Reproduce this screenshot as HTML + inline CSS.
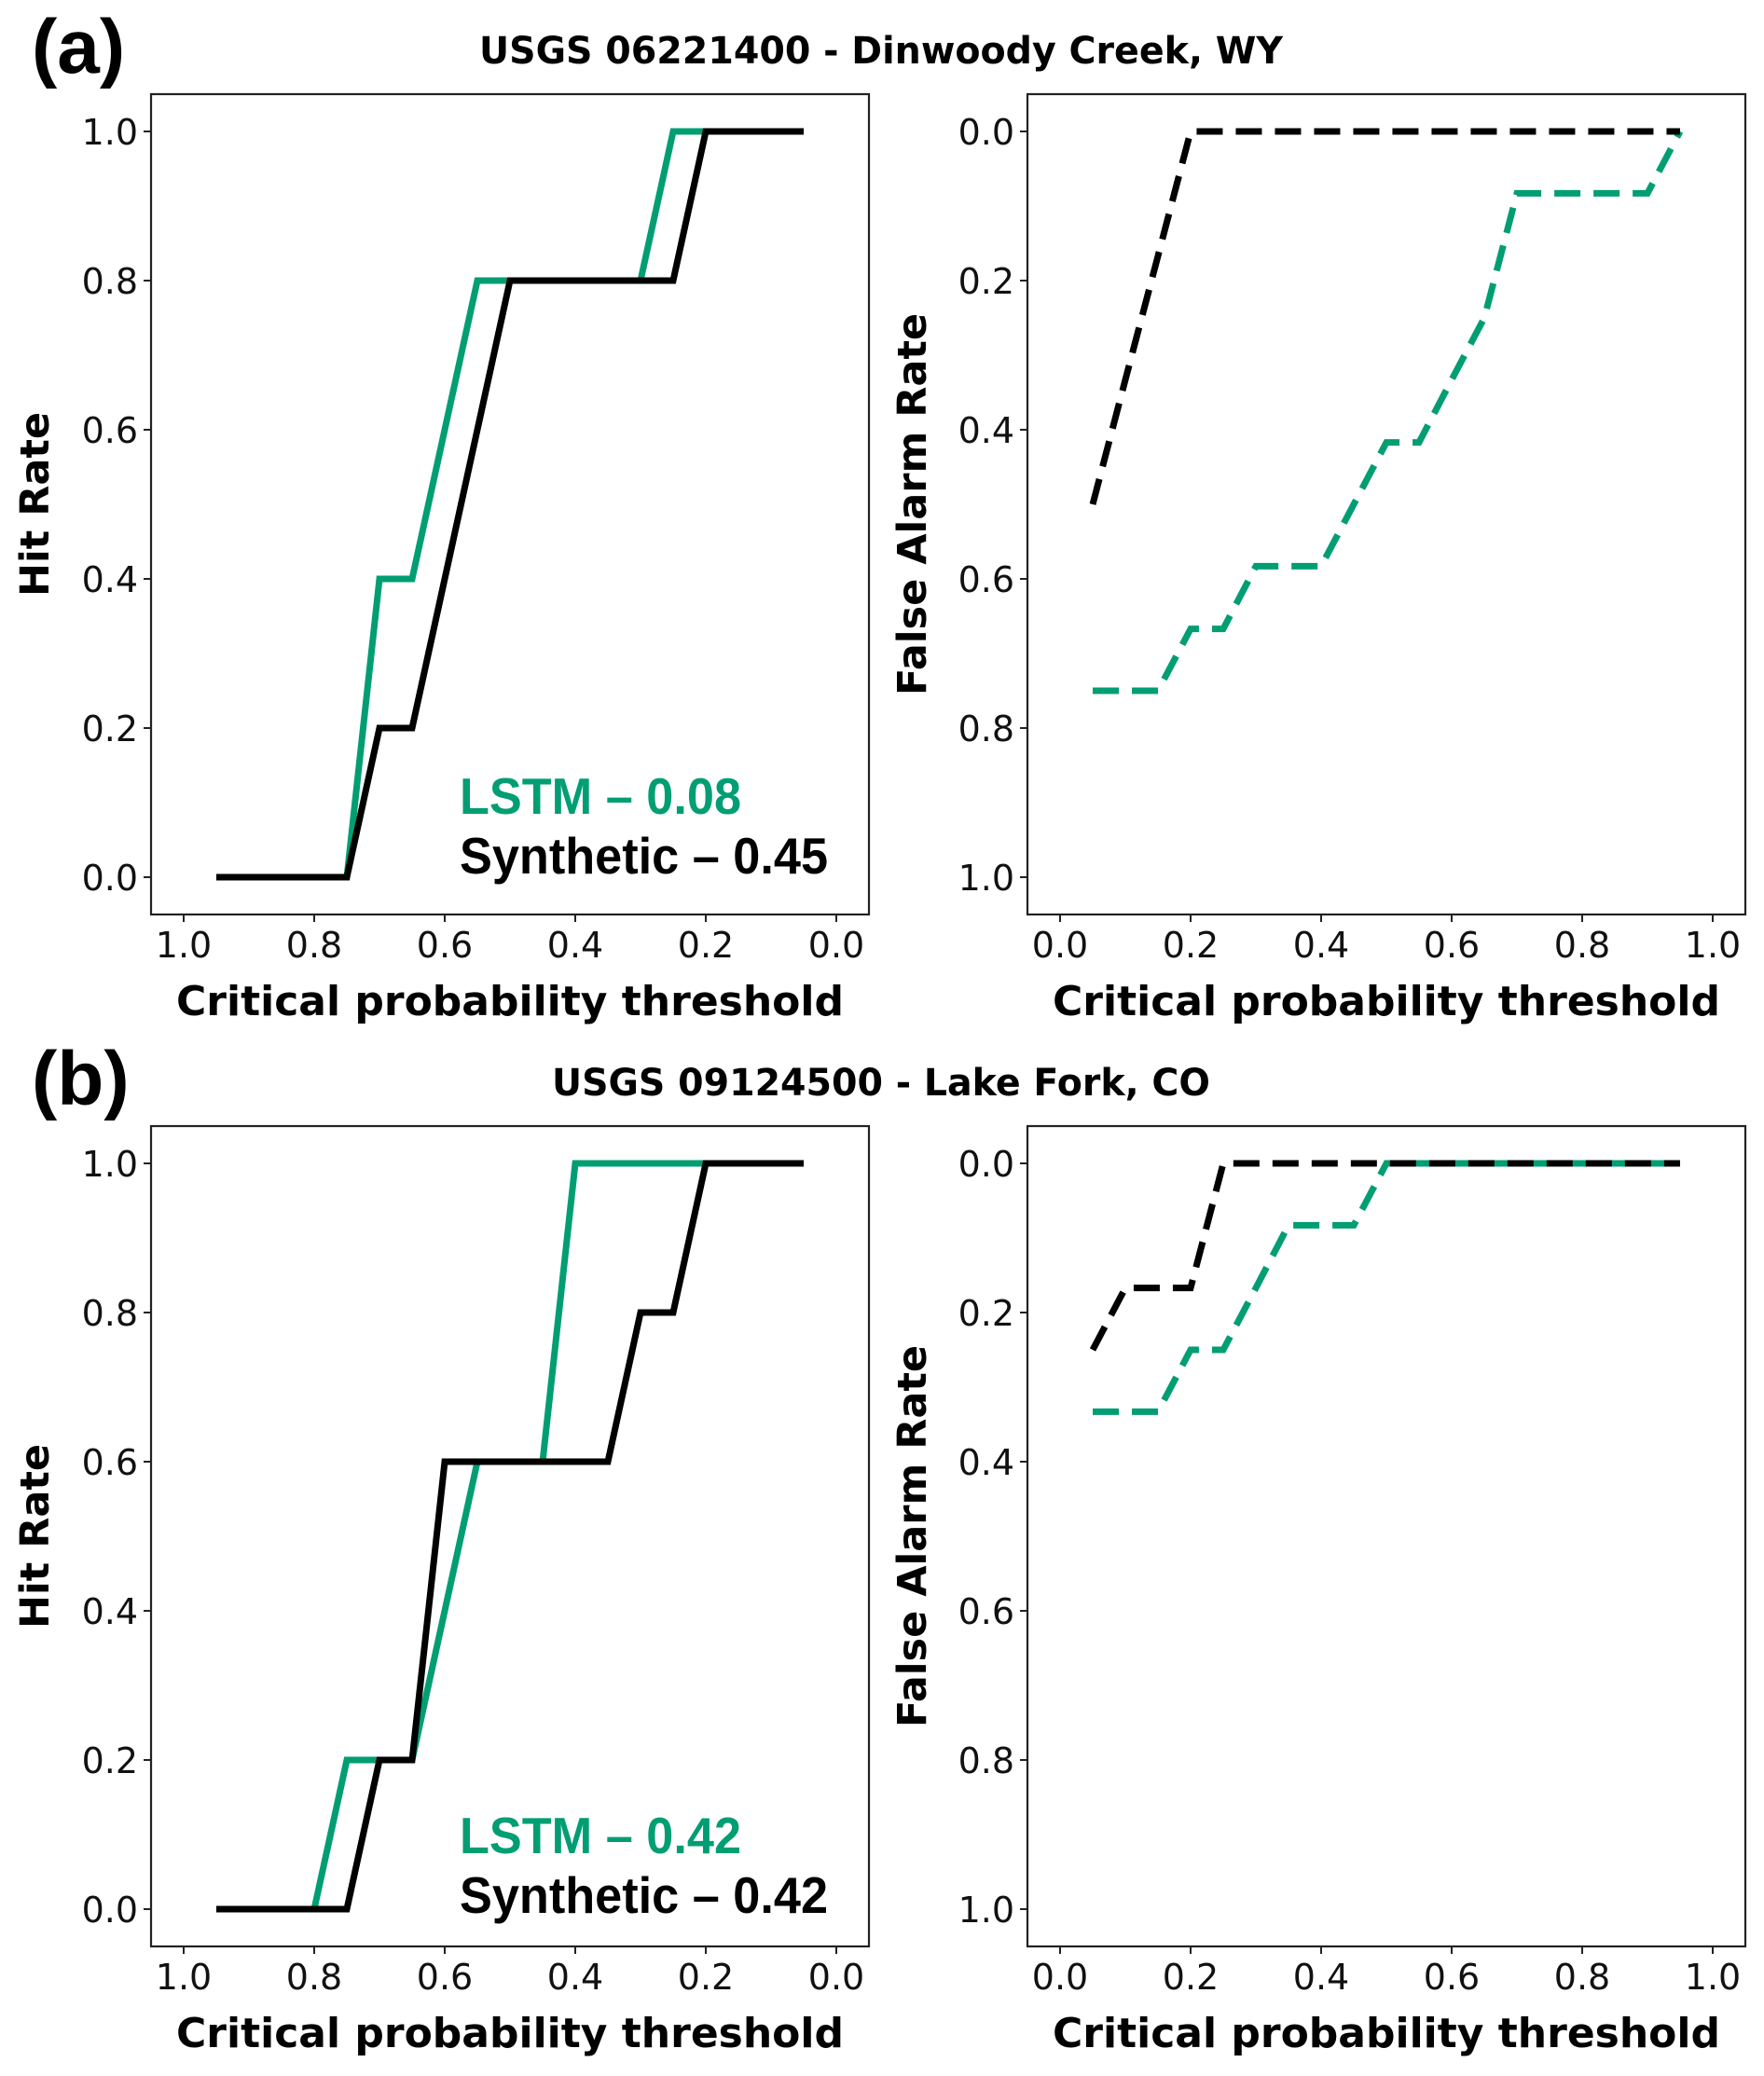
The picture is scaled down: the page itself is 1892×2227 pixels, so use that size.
<!DOCTYPE html>
<html><head><meta charset="utf-8"><style>
html,body{margin:0;padding:0;background:#fff;}
svg{display:block;font-family:"DejaVu Sans","Liberation Sans",sans-serif;}
</style></head><body>
<svg id="fig" width="1892" height="2227" viewBox="0 0 1892 2227" xmlns="http://www.w3.org/2000/svg">
<text x="34" y="78" style="font-family:'Liberation Sans',sans-serif" font-weight="bold" font-size="82">(a)</text>
<text x="945" y="68" text-anchor="middle" font-weight="bold" font-size="40" textLength="862" lengthAdjust="spacingAndGlyphs">USGS 06221400 - Dinwoody Creek, WY</text>
<text x="34" y="1185" style="font-family:'Liberation Sans',sans-serif" font-weight="bold" font-size="82">(b)</text>
<text x="945" y="1175" text-anchor="middle" font-weight="bold" font-size="40" textLength="706" lengthAdjust="spacingAndGlyphs">USGS 09124500 - Lake Fork, CO</text>
<g id="plots"></g>
</svg>
<script>
// shared thresholds
const xsLeft = [0.95,0.9,0.85,0.8,0.75,0.7,0.65,0.6,0.55,0.5,0.45,0.4,0.35,0.3,0.25,0.2,0.15,0.1,0.05];
const xsRight = [0.05,0.1,0.15,0.2,0.25,0.3,0.35,0.4,0.45,0.5,0.55,0.6,0.65,0.7,0.75,0.8,0.85,0.9,0.95];
// panel a
const hitLstmA = [0,0,0,0,0,0.4,0.4,0.6,0.8,0.8,0.8,0.8,0.8,0.8,1,1,1,1,1];
const hitSynA  = [0,0,0,0,0,0.2,0.2,0.4,0.6,0.8,0.8,0.8,0.8,0.8,0.8,1,1,1,1];
const farLstmA = [0.75,0.75,0.75,0.667,0.667,0.583,0.583,0.583,0.5,0.417,0.417,0.333,0.25,0.083,0.083,0.083,0.083,0.083,0];
const farSynA  = [0.5,0.333,0.167,0,0,0,0,0,0,0,0,0,0,0,0,0,0,0,0];
// panel b
const hitLstmB = [0,0,0,0,0.2,0.2,0.2,0.4,0.6,0.6,0.6,1,1,1,1,1,1,1,1];
const hitSynB  = [0,0,0,0,0,0.2,0.2,0.6,0.6,0.6,0.6,0.6,0.6,0.8,0.8,1,1,1,1];
const farLstmB = [0.333,0.333,0.333,0.25,0.25,0.167,0.083,0.083,0.083,0,0,0,0,0,0,0,0,0,0];
const farSynB  = [0.25,0.167,0.167,0.167,0,0,0,0,0,0,0,0,0,0,0,0,0,0,0];
const legendA = ["LSTM – 0.08","Synthetic – 0.45"];
const legendB = ["LSTM – 0.42","Synthetic – 0.42"];
const tickVals = [0,0.2,0.4,0.6,0.8,1.0];
const tickLabels = ["0.0","0.2","0.4","0.6","0.8","1.0"];

const NS = "http://www.w3.org/2000/svg";
const root = document.getElementById('plots');
const GREEN = "#029e73";
function mk(tag, attrs, parent){
  const e = document.createElementNS(NS, tag);
  for (const k in attrs) e.setAttribute(k, attrs[k]);
  (parent||root).appendChild(e);
  return e;
}
function panel(name, topY, reversedX, invertY, series, ylabel, legend, legOff){
  const left = reversedX ? 162 : 1102, right = reversedX ? 932 : 1872;
  const bottom = topY + 880;
  const g = mk('g', {});
  
  
  const x0 = reversedX ? 897 : 1137, x1 = reversedX ? 197 : 1837;
  const sx = v => x0 + (x1 - x0) * v;
  const yTop = topY + 40, yBot = topY + 840;
  const sy = v => invertY ? yTop + (yBot - yTop) * v : yBot - (yBot - yTop) * v;
  series.forEach(s => {
    const pts = s.xs.map((x,i) => sx(x).toFixed(1) + ',' + sy(s.ys[i]).toFixed(1)).join(' ');
    const p = mk('polyline', {points: pts, fill: 'none', stroke: s.color, 'stroke-width': 7, 'stroke-linejoin': 'miter'}, g);
    if (s.dash) p.setAttribute('stroke-dasharray', '28 14');
    
    
  });
  const box = mk('rect', {x:left, y:topY, width:right-left, height:880, fill:'none', stroke:'#222', 'stroke-width':2.2}, g);
  
  
  tickVals.forEach((v,i) => {
    const tx = sx(v);
    mk('line', {x1:tx, x2:tx, y1:bottom, y2:bottom+8, stroke:'#222', 'stroke-width':2}, g);
    const t = mk('text', {x:tx, y:bottom+46, 'text-anchor':'middle', 'font-size':38, fill:'#111'}, g);
    t.textContent = tickLabels[i];
    
    
    const ty = sy(v);
    mk('line', {x1:left-8, x2:left, y1:ty, y2:ty, stroke:'#222', 'stroke-width':2}, g);
    const t2 = mk('text', {x:left-14, y:ty+14, 'text-anchor':'end', 'font-size':38, fill:'#111'}, g);
    t2.textContent = tickLabels[i];
    
    
  });
  const xl = mk('text', {x:(left+right)/2, y:bottom+108, 'text-anchor':'middle', 'font-size':44, 'font-weight':'bold'}, g);
  xl.textContent = 'Critical probability threshold';
  
  
  const ylx = reversedX ? 52 : 993;
  const yl = mk('text', {x:ylx, y:topY+440, 'text-anchor':'middle', 'font-size':43, 'font-weight':'bold', transform:`rotate(-90 ${ylx} ${topY+440})`}, g);
  yl.textContent = ylabel;
  
  
  if (legend){
    const l1 = mk('text', {x:493, y:topY+772+legOff, style:"font-family:'Liberation Sans',sans-serif", 'font-weight':'bold', 'font-size':55, fill:GREEN, textLength:302, lengthAdjust:'spacingAndGlyphs'}, g);
    l1.textContent = legend[0];
    
    
    const l2 = mk('text', {x:493, y:topY+836+legOff, style:"font-family:'Liberation Sans',sans-serif", 'font-weight':'bold', 'font-size':55, fill:'#000', textLength:395, lengthAdjust:'spacingAndGlyphs'}, g);
    l2.textContent = legend[1];
    
    
  }
}
panel('panel-a-hit-rate', 101, true, false, [
  {xs:xsLeft, ys:hitLstmA, color:GREEN, name:'lstm-hit-line'},
  {xs:xsLeft, ys:hitSynA, color:'#000', name:'synthetic-hit-line'}], 'Hit Rate', legendA, 0);
panel('panel-a-false-alarm', 101, false, true, [
  {xs:xsRight, ys:farLstmA, color:GREEN, dash:true, name:'lstm-far-line'},
  {xs:xsRight, ys:farSynA, color:'#000', dash:true, name:'synthetic-far-line'}], 'False Alarm Rate', null, 0);
panel('panel-b-hit-rate', 1208, true, false, [
  {xs:xsLeft, ys:hitLstmB, color:GREEN, name:'lstm-hit-line'},
  {xs:xsLeft, ys:hitSynB, color:'#000', name:'synthetic-hit-line'}], 'Hit Rate', legendB, 8);
panel('panel-b-false-alarm', 1208, false, true, [
  {xs:xsRight, ys:farLstmB, color:GREEN, dash:true, name:'lstm-far-line'},
  {xs:xsRight, ys:farSynB, color:'#000', dash:true, name:'synthetic-far-line'}], 'False Alarm Rate', null, 0);
</script>
</body></html>
